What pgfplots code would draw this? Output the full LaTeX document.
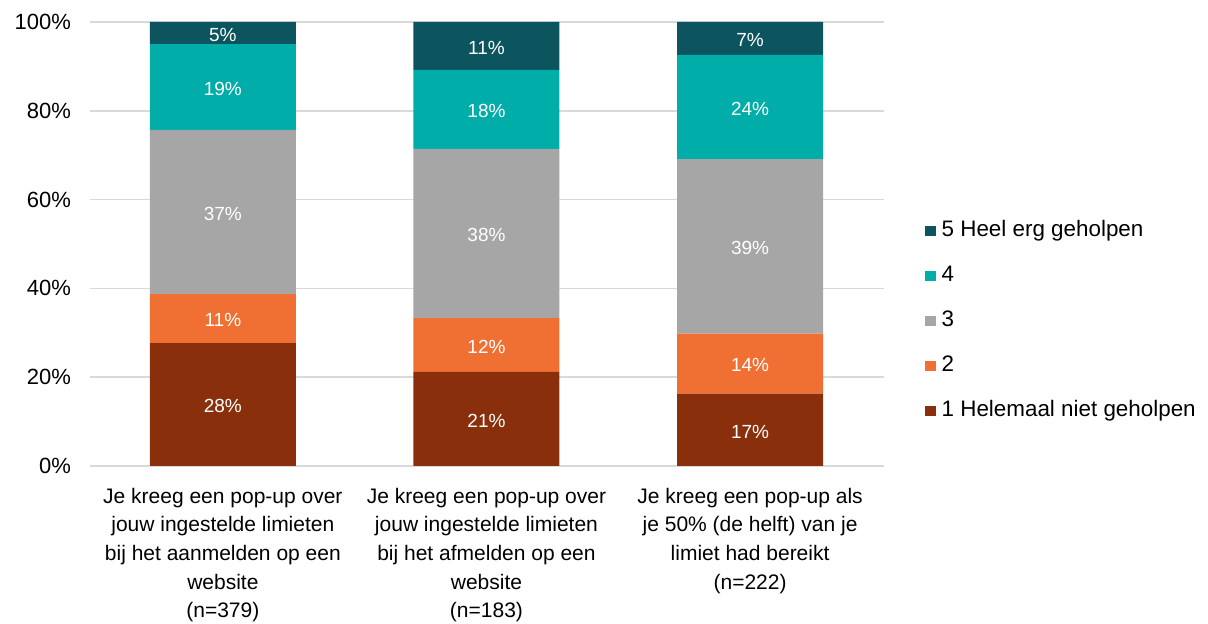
\documentclass[border=0pt]{standalone}
\usepackage{pgfplots}
\usepackage{pgfplotstable}
\pgfplotsset{compat=1.18}
\usepackage{fontspec}
\setmainfont{Liberation Sans}
\definecolor{c1}{HTML}{8A2F0B}
\definecolor{c2}{HTML}{F07034}
\definecolor{c3}{HTML}{A6A6A6}
\definecolor{c4}{HTML}{00ADA8}
\definecolor{c5}{HTML}{0D555E}
\definecolor{gridc}{HTML}{D9D9D9}
\pgfplotsset{sqlegend/.style={legend image code/.code={\fill[##1] (0pt,-2.7pt) rectangle (5.4pt,2.7pt);}},
  lbl/.style={
  nodes near coords={\pgfplotspointmeta\%},
  point meta=explicit symbolic,
  every node near coord/.append style={anchor=center, text=white, yshift=-0.9pt,
     font=\fontsize{9.5}{11}\selectfont}}}
\pgfplotstableread{
x y lab
0 27.7 28
1 21.2 21
2 16.3 17
}\tone
\pgfplotstableread{
x y lab
0 11.0 11
1 12.1 12
2 13.5 14
}\ttwo
\pgfplotstableread{
x y lab
0 37.0 37
1 38.1 38
2 39.3 39
}\tthree
\pgfplotstableread{
x y lab
0 19.3 19
1 17.8 18
2 23.5 24
}\tfour
\pgfplotstableread{
x y lab
0 5.0 5
1 10.8 11
2 7.4 7
}\tfive
\begin{document}
\begin{tikzpicture}
\begin{axis}[name=ax, at={(0,0)}, anchor=south west,
  scale only axis, width=397pt, height=222pt,
  ybar stacked, bar width=73pt,
  xmin=-0.504, xmax=2.508, ymin=0, ymax=100,
  axis line style={draw=none},
  major tick length=0pt,
  ymajorgrids, major grid style={gridc, line width=0.8pt},
  ytick={0,20,40,60,80,100},
  yticklabels={0\%,20\%,40\%,60\%,80\%,100\%},
  yticklabel style={font=\fontsize{11}{13}\selectfont, xshift=-6pt},
  xtick={0,1,2},
  xticklabels={{Je kreeg een pop-up over\\jouw ingestelde limieten\\bij het aanmelden op een\\website\\(n=379)},
               {Je kreeg een pop-up over\\jouw ingestelde limieten\\bij het afmelden op een\\website\\(n=183)},
               {Je kreeg een pop-up als\\je 50\% (de helft) van je\\limiet had bereikt\\(n=222)}},
  xticklabel style={font=\fontsize{10.5}{14.3}\selectfont, align=center, yshift=-7.5pt},
  reverse legend,
  legend style={at={(1.051,0.3265)}, anchor=west, draw=none, fill=none,
     inner sep=0pt, row sep=12pt, column sep=0pt,
     font=\fontsize{11.2}{13}\selectfont,
     nodes={inner sep=0pt, text height=8pt, text depth=2.5pt, anchor=west}},
  legend cell align=left,
  /tikz/every odd column/.append style={column sep=3pt},
  every axis plot/.append style={draw=none},
]
\addplot[fill=c1, sqlegend, lbl] table[x=x, y=y, meta=lab] {\tone};
\addplot[fill=c2, sqlegend, lbl] table[x=x, y=y, meta=lab] {\ttwo};
\addplot[fill=c3, sqlegend, lbl] table[x=x, y=y, meta=lab] {\tthree};
\addplot[fill=c4, sqlegend, lbl] table[x=x, y=y, meta=lab] {\tfour};
\addplot[fill=c5, sqlegend, lbl] table[x=x, y=y, meta=lab] {\tfive};
\legend{1 Helemaal niet geholpen,2,3,4,5 Heel erg geholpen}
\end{axis}
\pgfresetboundingbox
\path[use as bounding box] ([shift={(-45pt,-79pt)}]ax.south west) rectangle ([shift={(162pt,11pt)}]ax.north east);
\end{tikzpicture}
\end{document}
